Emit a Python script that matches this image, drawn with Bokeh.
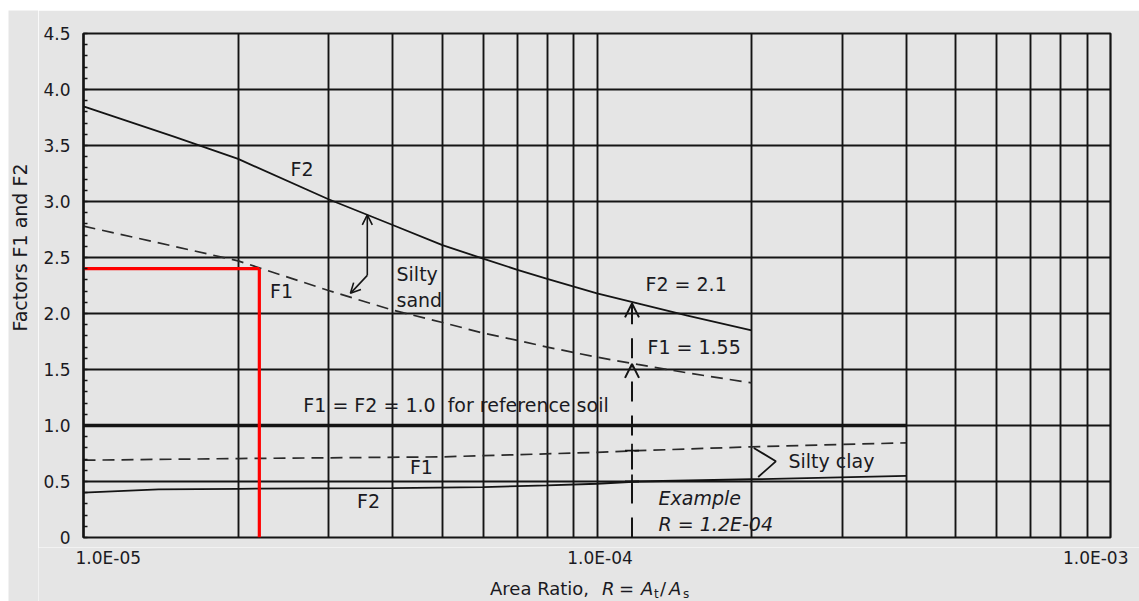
import math
from bokeh.plotting import figure
from bokeh.layouts import column, row
from bokeh.models import Range1d, FixedTicker, Label, Arrow, OpenHead, Spacer
from bokeh.embed import file_html
from bokeh.resources import INLINE

# ---------------- data ----------------
# Silty sand
R_sand = [1e-5, 1.5e-5, 2e-5, 3e-5, 4e-5, 5e-5, 6e-5, 7e-5, 8e-5, 1e-4, 1.2e-4, 1.5e-4, 2e-4]
F2_sand = [3.85, 3.58, 3.38, 3.02, 2.79, 2.61, 2.49, 2.39, 2.31, 2.18, 2.09, 1.98, 1.85]
F1_sand = [2.78, 2.60, 2.47, 2.205, 2.03, 1.92, 1.825, 1.76, 1.70, 1.61, 1.545, 1.47, 1.38]

# Silty clay
R_clay_f1 = [1e-5, 2e-5, 5e-5, 1e-4, 1.2e-4, 2e-4, 4e-4]
F1_clay = [0.69, 0.705, 0.72, 0.76, 0.775, 0.81, 0.845]
R_clay_f2 = [1e-5, 1.4e-5, 2e-5, 4e-5, 6e-5, 8e-5, 1e-4, 1.2e-4, 2e-4, 4e-4]
F2_clay = [0.40, 0.43, 0.435, 0.44, 0.45, 0.465, 0.48, 0.50, 0.52, 0.55]

# Reference soil
R_ref = [1e-5, 4e-4]
F_ref = [1.0, 1.0]

# Example
example_R = 1.17e-4
example_F1 = 1.55
example_F2 = 2.09

# Red reading lines
red_R = 2.2e-5
red_F = 2.4

# Axis ticks
y_ticks = [0, 0.5, 1.0, 1.5, 2.0, 2.5, 3.0, 3.5, 4.0, 4.5]
y_tick_labels = ["0", "0.5", "1.0", "1.5", "2.0", "2.5", "3.0", "3.5", "4.0", "4.5"]
x_ticks = [1e-5, 1e-4, 1e-3]
x_tick_labels = ["1.0E-05", "1.0E-04", "1.0E-03"]
x_min, x_max = 1e-5, 1e-3
y_min, y_max = 0, 4.5

# ---------------- layout constants (pixels) ----------------
FONT = "DejaVu Sans"
TXT = "#1a1a22"
LINE = "#141414"
BG = "#e5e5e5"

LEFT_W = 30          # strip holding the y title
MAIN_W = 1101        # main figure width
MAIN_H = 537
BOT_H = 54
BORDER_L, BORDER_R, BORDER_T, BORDER_B = 45, 29, 23, 10
FRAME_W = MAIN_W - BORDER_L - BORDER_R
PX_PER_DECADE = FRAME_W / (math.log10(x_max) - math.log10(x_min))


def bare_fig(w, h, xr, yr, **kw):
    f = figure(width=w, height=h, x_range=xr, y_range=yr, output_backend="svg",
               toolbar_location=None, min_border=0,
               x_axis_location=None, y_axis_location=None, **kw)
    f.background_fill_color = BG
    f.border_fill_color = BG
    f.outline_line_color = None
    f.grid.visible = False
    f.frame_align = False
    return f


def lab(fig, text, x, y, align="left", style="normal", size="19px", baseline="middle",
        x_offset=0, angle=0):
    fig.add_layout(Label(x=x, y=y, text=text, text_align=align, text_baseline=baseline,
                         text_font=FONT, text_font_size=size, text_font_style=style,
                         text_color=TXT, x_offset=x_offset, angle=angle))


# ---------------- main figure ----------------
p = figure(width=MAIN_W, height=MAIN_H, x_axis_type="log",
           x_range=Range1d(x_min, x_max), y_range=Range1d(y_min, y_max),
           output_backend="svg", toolbar_location=None,
           min_border_left=BORDER_L, min_border_right=BORDER_R,
           min_border_top=BORDER_T, min_border_bottom=BORDER_B)
p.frame_align = False
p.background_fill_color = BG
p.border_fill_color = BG
p.outline_line_color = LINE
p.outline_line_width = 2.2

x_grid_ticks = [m * 10.0 ** e for e in (-5, -4) for m in range(1, 10)] + [1e-3]
p.xgrid.ticker = FixedTicker(ticks=x_grid_ticks)
p.xgrid.grid_line_color = LINE
p.xgrid.grid_line_width = 1.9
p.ygrid.ticker = FixedTicker(ticks=y_ticks)
p.ygrid.grid_line_color = LINE
p.ygrid.grid_line_width = 1.9

p.xaxis.visible = False

p.yaxis.ticker = FixedTicker(ticks=y_ticks, minor_ticks=[round(i * 0.1, 1) for i in range(46)])
p.yaxis.major_label_overrides = {t: l for t, l in zip(y_ticks, y_tick_labels)}
p.yaxis.major_tick_in = 0
p.yaxis.major_tick_out = 0
p.yaxis.minor_tick_in = 4
p.yaxis.minor_tick_out = 0
p.yaxis.minor_tick_line_color = LINE
p.yaxis.minor_tick_line_width = 1.5
p.yaxis.axis_line_color = LINE
p.yaxis.axis_line_width = 2.2
p.yaxis.major_label_standoff = 13
p.yaxis.major_label_text_font = FONT
p.yaxis.major_label_text_font_size = "17px"
p.yaxis.major_label_text_color = TXT

# curves
p.line(R_sand, F2_sand, line_color=LINE, line_width=1.8)
p.line(R_sand, F1_sand, line_color="#2a2a2a", line_width=1.7, line_dash="12 7")
p.line(R_clay_f1, F1_clay, line_color="#2a2a2a", line_width=1.7, line_dash="12 7")
p.line(R_clay_f2, F2_clay, line_color=LINE, line_width=1.8)
p.line(R_ref, F_ref, line_color=LINE, line_width=3.4)

# red reading lines
p.line([x_min, red_R], [red_F, red_F], line_color="#ff0000", line_width=3.2)
p.line([red_R, red_R], [red_F, y_min], line_color="#ff0000", line_width=3.2)

# example vertical dashed arrows
p.add_layout(Arrow(x_start=example_R, y_start=y_min, x_end=example_R, y_end=example_F1,
                   line_color=LINE, line_width=2, line_dash="20 14",
                   end=OpenHead(size=14, line_color=LINE, line_width=2)))
p.add_layout(Arrow(x_start=example_R, y_start=example_F1 + 0.05, x_end=example_R, y_end=example_F2,
                   line_color=LINE, line_width=2, line_dash="20 14",
                   end=OpenHead(size=14, line_color=LINE, line_width=2)))
p.scatter([example_R, example_R], [0.775, 0.50], marker="cross", size=14,
          line_color=LINE, line_width=1.8)

# silty sand double arrow
p.add_layout(Arrow(x_start=3.57e-5, y_start=2.34, x_end=3.57e-5, y_end=2.88,
                   line_color=LINE, line_width=1.6,
                   end=OpenHead(size=10, line_color=LINE, line_width=1.6)))
p.add_layout(Arrow(x_start=3.57e-5, y_start=2.34, x_end=3.31e-5, y_end=2.18,
                   line_color=LINE, line_width=1.6,
                   end=OpenHead(size=10, line_color=LINE, line_width=1.6)))

# silty clay bracket
p.line([2.02e-4, 2.23e-4, 2.06e-4], [0.80, 0.68, 0.54], line_color=LINE, line_width=1.8)

# in-plot texts
lab(p, "F2", 2.665e-5, 3.29, align="center")
lab(p, "F1", 2.43e-5, 2.20, align="center")
lab(p, "Silty", 4.07e-5, 2.35)
lab(p, "sand", 4.07e-5, 2.12)
lab(p, "F2 = 2.1", 1.243e-4, 2.26)
lab(p, "F1 = 1.55", 1.254e-4, 1.70)
lab(p, "F1 = F2 = 1.0\u00a0\u00a0for reference soil", 2.68e-5, 1.18)
lab(p, "Silty clay", 2.36e-4, 0.68)
lab(p, "F1", 4.55e-5, 0.63, align="center")
lab(p, "F2", 3.59e-5, 0.33, align="center")
lab(p, "Example", 1.318e-4, 0.35, style="italic")
lab(p, "R = 1.2E-04", 1.318e-4, 0.125, style="italic")

# ---------------- bottom strip: x tick labels and x title ----------------
bx0 = 10 ** (math.log10(x_min) - BORDER_L / PX_PER_DECADE)
bx1 = 10 ** (math.log10(x_max) + BORDER_R / PX_PER_DECADE)
pb = bare_fig(MAIN_W, BOT_H, Range1d(bx0, bx1), Range1d(0, BOT_H), x_axis_type="log")

x_tick_align = ["left", "center", "right"]
x_tick_shift = [-8, 3, 18]
for v, t, a, s in zip(x_ticks, x_tick_labels, x_tick_align, x_tick_shift):
    lab(pb, t, v, 44, align=a, size="17px", x_offset=s)

title_parts = [("Area Ratio, ", -107, "normal", "18px", 13),
               ("R", 5, "italic", "18px", 13),
               ("=", 22, "normal", "18px", 13),
               ("A", 44, "italic", "18px", 13),
               ("t", 57, "normal", "12px", 8),
               ("/", 63, "normal", "18px", 13),
               ("A", 72, "italic", "18px", 13),
               ("s", 86, "normal", "12px", 8)]
for t, off, st, sz, yy in title_parts:
    lab(pb, t, x_ticks[1], yy, style=st, size=sz, baseline="alphabetic", x_offset=off)

# ---------------- left strip: y title ----------------
TOTAL_H = MAIN_H + BOT_H
pl = bare_fig(LEFT_W, TOTAL_H, Range1d(0, LEFT_W), Range1d(0, TOTAL_H))
lab(pl, "Factors F1 and F2", 11, TOTAL_H - 237, align="center", size="19px", angle=math.pi / 2)

layout = column(Spacer(height=10, width=8 + LEFT_W + MAIN_W),
                row(Spacer(width=8, height=TOTAL_H), pl, column(p, pb)))
open("out.html", "w").write(file_html(layout, INLINE))
